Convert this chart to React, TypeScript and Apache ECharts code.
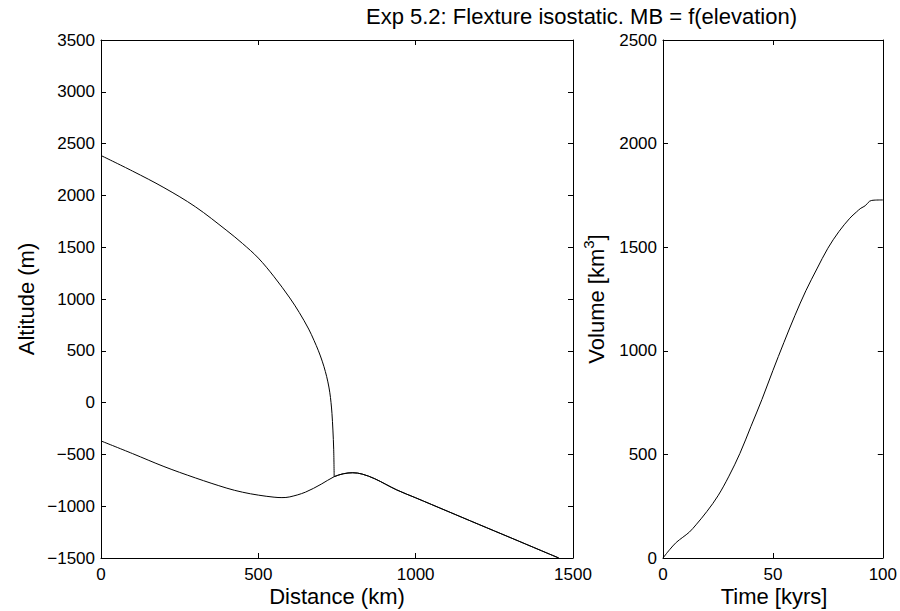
import React, { useEffect, useRef } from "react";
import * as echarts from "echarts";

// Left panel: ice surface (upper curve) until it meets the bed at the ice front
const surfaceDistanceKm = [0, 100, 200, 300, 400, 450, 500, 550, 600, 630, 660, 677, 691, 703, 713, 721, 727, 731, 734, 737, 739.5, 741];
const surfaceAltitudeM = [2385, 2235, 2075, 1890, 1660, 1535, 1395, 1215, 1010, 870, 710, 600, 500, 400, 300, 200, 100, 0, -104, -265, -450, -715];

// Left panel: bed (lower curve)
const bedDistanceKm = [0, 100, 200, 300, 400, 450, 500, 550, 575, 600, 650, 700, 741, 770, 800, 830, 870, 940, 1000, 1100, 1200, 1300, 1400, 1455];
const bedAltitudeM = [-370, -492, -617, -727, -826, -865, -893, -913, -917, -910, -864, -787, -715, -687, -677, -690, -735, -843, -919, -1047, -1175, -1302, -1430, -1500];

// Right panel: ice volume through time
const timeKyrs = [0, 3, 6, 9, 12, 15, 20, 25, 30, 35, 40, 45, 50, 55, 60, 65, 70, 75, 80, 85, 88, 90, 92, 94, 96, 100];
const volumeKm3 = [0, 40, 75, 100, 125, 160, 225, 300, 395, 505, 635, 765, 905, 1040, 1170, 1290, 1395, 1495, 1575, 1640, 1670, 1688, 1700, 1722, 1727, 1728];

const distanceRange = [0, 1500];
const altitudeRange = [-1500, 3500];
const timeRange = [0, 100];
const volumeRange = [0, 2500];

const titleText = "Exp 5.2: Flexture isostatic. MB = f(elevation)";

const FONT = "'Liberation Sans', Arial, Helvetica, sans-serif";
const TICK_FS = 17;
const LABEL_FS = 22;
const TITLE_FS = 22;

const fmt = (v: number) => String(v).replace("-", "\u2212");

function mkAxis(kind: "x" | "y", gridIndex: number, position: string, range: number[], interval: number, labels: boolean) {
  return {
    type: "value",
    gridIndex,
    position,
    min: range[0],
    max: range[1],
    interval,
    axisLine: { show: true, onZero: false, lineStyle: { color: "#000", width: 1 } },
    axisTick: { show: true, inside: true, length: 5, lineStyle: { color: "#000", width: 1 } },
    axisLabel: {
      show: labels,
      color: "#000",
      fontSize: TICK_FS,
      fontFamily: FONT,
      margin: kind === "x" ? 8 : 6,
      formatter: fmt,
    },
    splitLine: { show: false },
  };
}

export default function App() {
  const ref = useRef<HTMLDivElement>(null);
  useEffect(() => {
    document.body.style.margin = "0";
    const chart = echarts.init(ref.current!, null, { renderer: "svg" });

    const bedPairs = bedDistanceKm.map((d, i) => [d, bedAltitudeM[i]]);
    const surfacePairs = surfaceDistanceKm.map((d, i) => [d, surfaceAltitudeM[i]]);
    // beyond the ice front the surface coincides with the bed
    const groundedPairs = bedPairs.filter((p) => p[0] >= surfaceDistanceKm[surfaceDistanceKm.length - 1]);
    const volumePairs = timeKyrs.map((t, i) => [t, volumeKm3[i]]);

    const lineBase = {
      type: "line",
      showSymbol: false,
      symbol: "none",
      smooth: 0.35,
      lineStyle: { color: "#000", width: 1 },
      silent: true,
    };

    const txt = (text: string, x: number, y: number, size: number, align: string, rotation = 0) => ({
      type: "text",
      x,
      y,
      rotation,
      style: {
        text,
        font: `${size}px ${FONT}`,
        fill: "#000",
        align,
        verticalAlign: "middle",
        textAlign: align,
        textVerticalAlign: "middle",
      },
    });

    chart.setOption({
      animation: false,
      backgroundColor: "#fff",
      grid: [
        { left: 101, top: 40, width: 472, height: 518 },
        { left: 663, top: 40, width: 222, height: 518 },
      ],
      xAxis: [
        mkAxis("x", 0, "bottom", distanceRange, 500, true),
        mkAxis("x", 0, "top", distanceRange, 500, false),
        mkAxis("x", 1, "bottom", timeRange, 50, true),
        mkAxis("x", 1, "top", timeRange, 50, false),
      ],
      yAxis: [
        mkAxis("y", 0, "left", altitudeRange, 500, true),
        mkAxis("y", 0, "right", altitudeRange, 500, false),
        mkAxis("y", 1, "left", volumeRange, 500, true),
        mkAxis("y", 1, "right", volumeRange, 500, false),
      ],
      series: [
        { ...lineBase, name: "Bed", xAxisIndex: 0, yAxisIndex: 0, data: bedPairs },
        { ...lineBase, name: "Surface", xAxisIndex: 0, yAxisIndex: 0, data: surfacePairs },
        { ...lineBase, name: "Surface (grounded)", xAxisIndex: 0, yAxisIndex: 0, data: groundedPairs },
        { ...lineBase, name: "Volume", xAxisIndex: 2, yAxisIndex: 2, data: volumePairs },
      ],
      graphic: [
        txt(titleText, 797, 16, TITLE_FS, "right"),
        txt("Distance (km)", 337, 596, LABEL_FS, "center"),
        txt("Time [kyrs]", 774, 596, LABEL_FS, "center"),
        txt("Altitude (m)", 26, 299, LABEL_FS, "center", Math.PI / 2),
        {
          type: "text",
          x: 596,
          y: 299,
          rotation: Math.PI / 2,
          style: {
            text: "{n|Volume [km}{sup|3}{n|]}",
            fill: "#000",
            align: "center",
            verticalAlign: "middle",
            textAlign: "center",
            textVerticalAlign: "middle",
            rich: {
              n: { fontSize: LABEL_FS, fontFamily: FONT, lineHeight: 30, fill: "#000", color: "#000" },
              sup: { fontSize: 15, fontFamily: FONT, lineHeight: 15, verticalAlign: "top", fill: "#000", color: "#000" },
            },
          },
        },
      ],
    });
    return () => chart.dispose();
  }, []);
  return <div ref={ref} style={{ width: 900, height: 611 }} />;
}
